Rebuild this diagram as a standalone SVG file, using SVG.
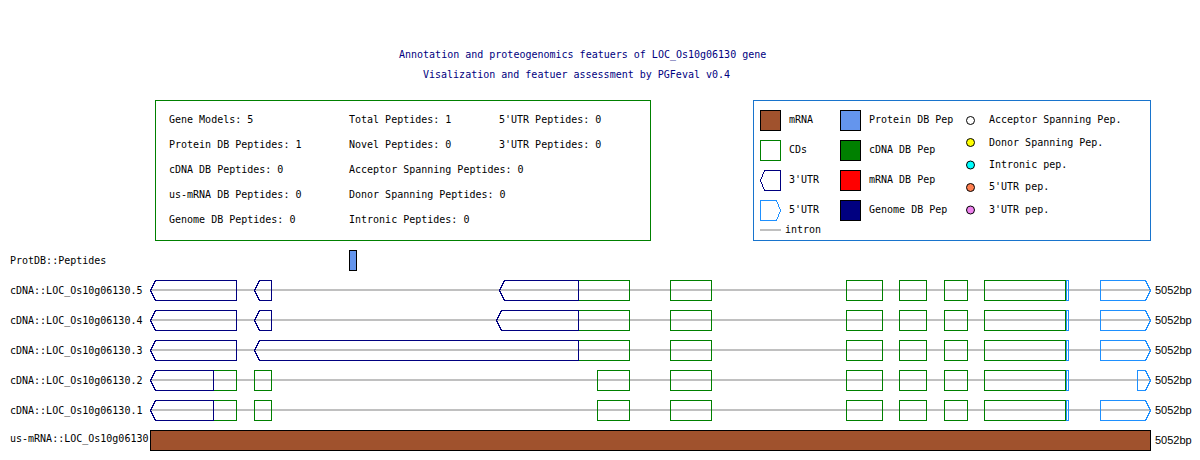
<svg xmlns="http://www.w3.org/2000/svg" width="1200" height="460" viewBox="0 0 1200 460">
<style>
text{font-family:"DejaVu Sans Mono","Liberation Mono",monospace;font-size:10px;fill:#000}
.title{fill:#000080}
.bp{font-family:"Liberation Sans",Arial,sans-serif;font-size:11px}
.cds{fill:none;stroke:#008000;stroke-width:1;shape-rendering:crispEdges}
.u3{fill:none;stroke:#000080;stroke-width:1;shape-rendering:crispEdges}
.u5{fill:none;stroke:#1E90FF;stroke-width:1;shape-rendering:crispEdges}
.intron{stroke:#c0c0c0;stroke-width:2}
.sq{stroke:#000;stroke-width:1;shape-rendering:crispEdges}
.dot{stroke:#000;stroke-width:1}
</style>
<rect width="1200" height="460" fill="#fff"/>
<g id="title">
<text class="title" x="399" y="58">Annotation and proteogenomics featuers of LOC_Os10g06130 gene</text>
<text class="title" x="423" y="78">Visalization and featuer assessment by PGFeval v0.4</text>
</g>
<g id="stats">
<rect x="155.5" y="100.5" width="495" height="140" fill="none" stroke="#008000" shape-rendering="crispEdges"/>
<text x="169" y="123">Gene Models: 5</text>
<text x="169" y="148">Protein DB Peptides: 1</text>
<text x="169" y="173">cDNA DB Peptides: 0</text>
<text x="169" y="198">us-mRNA DB Peptides: 0</text>
<text x="169" y="223">Genome DB Peptides: 0</text>
<text x="349" y="123">Total Peptides: 1</text>
<text x="349" y="148">Novel Peptides: 0</text>
<text x="349" y="173">Acceptor Spanning Peptides: 0</text>
<text x="349" y="198">Donor Spanning Peptides: 0</text>
<text x="349" y="223">Intronic Peptides: 0</text>
<text x="499" y="123">5'UTR Peptides: 0</text>
<text x="499" y="148">3'UTR Peptides: 0</text>
</g>
<g id="legend">
<rect x="753.5" y="100.5" width="397" height="140" fill="none" stroke="#1874CD" shape-rendering="crispEdges"/>
<rect class="sq" x="760.5" y="110.5" width="20" height="20" fill="#A0522D"/>
<text x="789" y="123">mRNA</text>
<rect class="cds" x="760.5" y="140.5" width="20" height="20"/>
<text x="789" y="153">CDs</text>
<polygon class="u3" points="780.5,170.5 764.5,170.5 760.5,180.5 764.5,190.5 780.5,190.5"/>
<text x="789" y="183">3'UTR</text>
<polygon class="u5" points="760.5,200.5 776.5,200.5 780.5,210.5 776.5,220.5 760.5,220.5"/>
<text x="789" y="213">5'UTR</text>
<line class="intron" x1="760" y1="230" x2="781" y2="230"/>
<text x="785" y="233">intron</text>
<rect class="sq" x="840.5" y="110.5" width="20" height="20" fill="#6495ED"/>
<text x="869" y="123">Protein DB Pep</text>
<rect class="sq" x="840.5" y="140.5" width="20" height="20" fill="#008000"/>
<text x="869" y="153">cDNA DB Pep</text>
<rect class="sq" x="840.5" y="170.5" width="20" height="20" fill="#FF0000"/>
<text x="869" y="183">mRNA DB Pep</text>
<rect class="sq" x="840.5" y="200.5" width="20" height="20" fill="#000080"/>
<text x="869" y="213">Genome DB Pep</text>
<circle class="dot" cx="970.5" cy="120.5" r="4" fill="#fff"/>
<text x="989" y="123">Acceptor Spanning Pep.</text>
<circle class="dot" cx="970.5" cy="142.5" r="4" fill="#FFFF00"/>
<text x="989" y="145.5">Donor Spanning Pep.</text>
<circle class="dot" cx="970.5" cy="165" r="4" fill="#00FFFF"/>
<text x="989" y="168">Intronic pep.</text>
<circle class="dot" cx="970.5" cy="187.5" r="4" fill="#FF7F50"/>
<text x="989" y="190">5'UTR pep.</text>
<circle class="dot" cx="970.5" cy="210" r="4" fill="#EE82EE"/>
<text x="989" y="213">3'UTR pep.</text>
</g>
<g id="track-peptides">
<text x="10" y="263.5">ProtDB::Peptides</text>
<rect class="sq" x="349.5" y="250.5" width="7" height="20" fill="#6495ED"/>
</g>
<g id="track-5">
<text x="10" y="294">cDNA::LOC_Os10g06130.5</text>
<line class="intron" x1="150" y1="290" x2="1150" y2="290"/>
<rect class="cds" x="578.5" y="280.5" width="51" height="20"/>
<rect class="cds" x="670.5" y="280.5" width="41" height="20"/>
<rect class="cds" x="846.5" y="280.5" width="36" height="20"/>
<rect class="cds" x="899.5" y="280.5" width="27" height="20"/>
<rect class="cds" x="944.5" y="280.5" width="23" height="20"/>
<rect class="cds" x="984.5" y="280.5" width="81" height="20"/>
<polygon class="u3" points="236.5,280.5 155.5,280.5 150.5,290.5 155.5,300.5 236.5,300.5"/>
<polygon class="u3" points="271.5,280.5 259.5,280.5 254.5,290.5 259.5,300.5 271.5,300.5"/>
<polygon class="u3" points="578.5,280.5 504.5,280.5 499.5,290.5 504.5,300.5 578.5,300.5"/>
<rect class="u5" x="1066.5" y="280.5" width="2" height="20"/>
<polygon class="u5" points="1100.5,280.5 1145.5,280.5 1150.5,290.5 1145.5,300.5 1100.5,300.5"/>
<text class="bp" x="1155" y="293.5">5052bp</text>
</g>
<g id="track-4">
<text x="10" y="324">cDNA::LOC_Os10g06130.4</text>
<line class="intron" x1="150" y1="320" x2="1150" y2="320"/>
<rect class="cds" x="578.5" y="310.5" width="51" height="20"/>
<rect class="cds" x="670.5" y="310.5" width="41" height="20"/>
<rect class="cds" x="846.5" y="310.5" width="36" height="20"/>
<rect class="cds" x="899.5" y="310.5" width="27" height="20"/>
<rect class="cds" x="944.5" y="310.5" width="23" height="20"/>
<rect class="cds" x="984.5" y="310.5" width="81" height="20"/>
<polygon class="u3" points="236.5,310.5 155.5,310.5 150.5,320.5 155.5,330.5 236.5,330.5"/>
<polygon class="u3" points="271.5,310.5 259.5,310.5 254.5,320.5 259.5,330.5 271.5,330.5"/>
<polygon class="u3" points="578.5,310.5 501.5,310.5 496.5,320.5 501.5,330.5 578.5,330.5"/>
<rect class="u5" x="1066.5" y="310.5" width="2" height="20"/>
<polygon class="u5" points="1100.5,310.5 1145.5,310.5 1150.5,320.5 1145.5,330.5 1100.5,330.5"/>
<text class="bp" x="1155" y="323.5">5052bp</text>
</g>
<g id="track-3">
<text x="10" y="354">cDNA::LOC_Os10g06130.3</text>
<line class="intron" x1="150" y1="350" x2="1150" y2="350"/>
<rect class="cds" x="578.5" y="340.5" width="51" height="20"/>
<rect class="cds" x="670.5" y="340.5" width="41" height="20"/>
<rect class="cds" x="846.5" y="340.5" width="36" height="20"/>
<rect class="cds" x="899.5" y="340.5" width="27" height="20"/>
<rect class="cds" x="944.5" y="340.5" width="23" height="20"/>
<rect class="cds" x="984.5" y="340.5" width="81" height="20"/>
<polygon class="u3" points="236.5,340.5 155.5,340.5 150.5,350.5 155.5,360.5 236.5,360.5"/>
<polygon class="u3" points="578.5,340.5 259.5,340.5 254.5,350.5 259.5,360.5 578.5,360.5"/>
<rect class="u5" x="1066.5" y="340.5" width="2" height="20"/>
<polygon class="u5" points="1100.5,340.5 1145.5,340.5 1150.5,350.5 1145.5,360.5 1100.5,360.5"/>
<text class="bp" x="1155" y="353.5">5052bp</text>
</g>
<g id="track-2">
<text x="10" y="384">cDNA::LOC_Os10g06130.2</text>
<line class="intron" x1="150" y1="380" x2="1150" y2="380"/>
<rect class="cds" x="213.5" y="370.5" width="23" height="20"/>
<rect class="cds" x="254.5" y="370.5" width="17" height="20"/>
<rect class="cds" x="597.5" y="370.5" width="32" height="20"/>
<rect class="cds" x="670.5" y="370.5" width="41" height="20"/>
<rect class="cds" x="846.5" y="370.5" width="36" height="20"/>
<rect class="cds" x="899.5" y="370.5" width="27" height="20"/>
<rect class="cds" x="944.5" y="370.5" width="23" height="20"/>
<rect class="cds" x="984.5" y="370.5" width="81" height="20"/>
<polygon class="u3" points="213.5,370.5 155.5,370.5 150.5,380.5 155.5,390.5 213.5,390.5 213.5,370.5"/>
<rect class="u5" x="1066.5" y="370.5" width="2" height="20"/>
<polygon class="u5" points="1137.5,370.5 1145.5,370.5 1150.5,380.5 1145.5,390.5 1137.5,390.5"/>
<text class="bp" x="1155" y="383.5">5052bp</text>
</g>
<g id="track-1">
<text x="10" y="414">cDNA::LOC_Os10g06130.1</text>
<line class="intron" x1="150" y1="410" x2="1150" y2="410"/>
<rect class="cds" x="213.5" y="400.5" width="23" height="20"/>
<rect class="cds" x="254.5" y="400.5" width="17" height="20"/>
<rect class="cds" x="597.5" y="400.5" width="32" height="20"/>
<rect class="cds" x="670.5" y="400.5" width="41" height="20"/>
<rect class="cds" x="846.5" y="400.5" width="36" height="20"/>
<rect class="cds" x="899.5" y="400.5" width="27" height="20"/>
<rect class="cds" x="944.5" y="400.5" width="23" height="20"/>
<rect class="cds" x="984.5" y="400.5" width="81" height="20"/>
<polygon class="u3" points="213.5,400.5 155.5,400.5 150.5,410.5 155.5,420.5 213.5,420.5 213.5,400.5"/>
<rect class="u5" x="1066.5" y="400.5" width="2" height="20"/>
<polygon class="u5" points="1100.5,400.5 1145.5,400.5 1150.5,410.5 1145.5,420.5 1100.5,420.5"/>
<text class="bp" x="1155" y="413.5">5052bp</text>
</g>
<g id="track-mrna">
<text x="10" y="442">us-mRNA::LOC_Os10g06130</text>
<rect class="sq" x="150.5" y="430.5" width="1000" height="20" fill="#A0522D"/>
<text class="bp" x="1155" y="443.5">5052bp</text>
</g>
</svg>
